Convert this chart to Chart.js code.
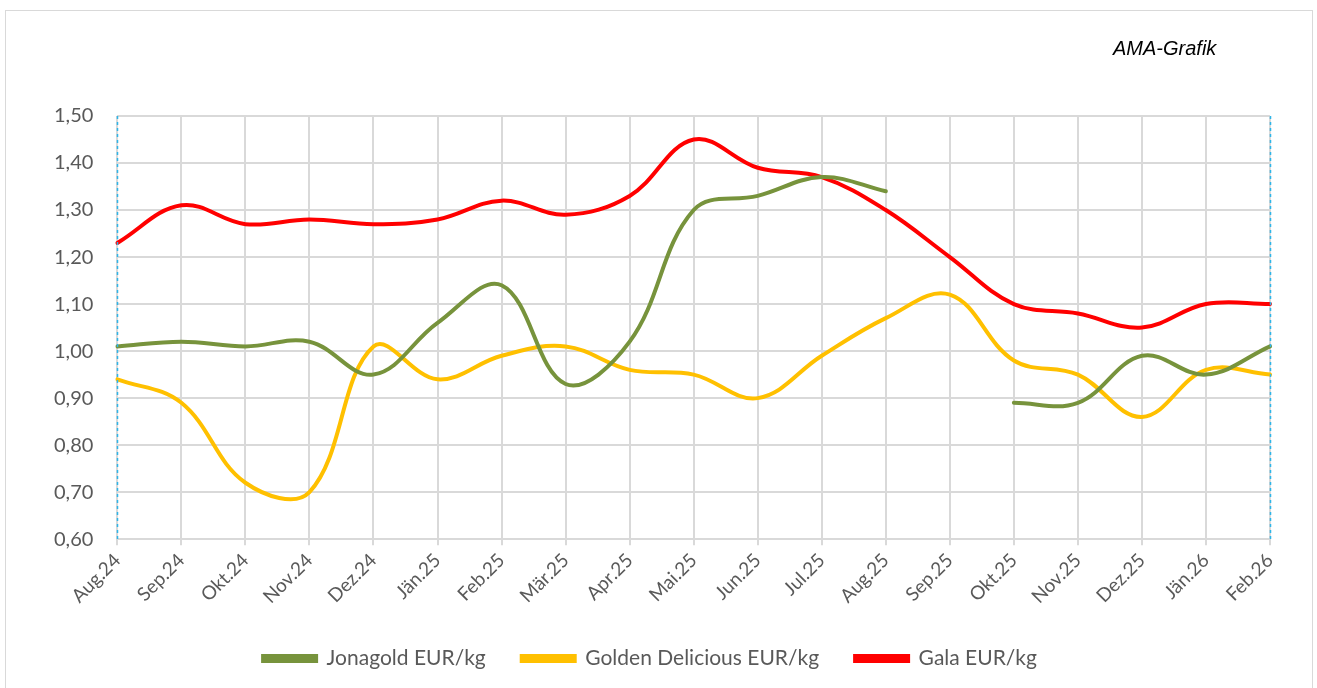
<!DOCTYPE html>
<html>
<head>
<meta charset="utf-8">
<script src="https://cdn.jsdelivr.net/npm/chart.js@4.4.1/dist/chart.umd.min.js"></script>
<style>
  body { margin: 0; background: #fff; }
  #frame { position: absolute; left: 5px; top: 10px; width: 1308px; height: 690px; border: 1px solid #d9d9d9; box-sizing: border-box; }
  #wrap { position: absolute; left: 0; top: 0; width: 1317px; height: 688px; }
  #note { position: absolute; left: 1113px; top: 37px; font: italic 20px "Liberation Sans", Arial, sans-serif; color: #000; }
</style>
</head>
<body>
<div id="frame"></div>
<div id="wrap"><canvas id="chart"></canvas></div>
<div id="note">AMA-Grafik</div>
<script>
// months on the x axis
var months = ['Aug.24', 'Sep.24', 'Okt.24', 'Nov.24', 'Dez.24', 'Jän.25', 'Feb.25', 'Mär.25', 'Apr.25',
  'Mai.25', 'Jun.25', 'Jul.25', 'Aug.25', 'Sep.25', 'Okt.25', 'Nov.25', 'Dez.25', 'Jän.26', 'Feb.26'];

// prices EUR/kg
var jonagold = [1.01, 1.02, 1.01, 1.02, 0.95, 1.06, 1.14, 0.93, 1.02, 1.30, 1.33, 1.37, 1.34, null, 0.89, 0.89, 0.99, 0.95, 1.01];
var golden = [0.94, 0.89, 0.72, 0.70, 1.01, 0.94, 0.99, 1.01, 0.96, 0.95, 0.90, 0.99, 1.07, 1.12, 0.98, 0.95, 0.86, 0.96, 0.95];
var gala = [1.23, 1.31, 1.27, 1.28, 1.27, 1.28, 1.32, 1.29, 1.33, 1.45, 1.39, 1.37, 1.30, 1.20, 1.10, 1.08, 1.05, 1.10, 1.10];

var yTicks = { min: 0.6, max: 1.5, step: 0.1 };

var font = "Lato, 'Open Sans', sans-serif";
var grey = '#595959';

// dashed blue lines on the first and last month
var edgeLines = {
  id: 'edgeLines',
  afterDatasetsDraw: function(chart) {
    var ctx = chart.ctx;
    var x = chart.scales.x, area = chart.chartArea;
    ctx.save();
    ctx.strokeStyle = '#2fb5e8';
    ctx.lineWidth = 1.5;
    ctx.setLineDash([3, 3]);
    [0, months.length - 1].forEach(function(i) {
      var px = Math.round(x.getPixelForValue(i)) + 0.5;
      ctx.beginPath();
      ctx.moveTo(px, area.top);
      ctx.lineTo(px, area.bottom);
      ctx.stroke();
    });
    ctx.restore();
  }
};

function series(label, data, color) {
  return {
    label: label,
    data: data,
    borderColor: color,
    backgroundColor: color,
    borderWidth: 4,
    pointRadius: 0,
    tension: 0.38,
    spanGaps: false,
    borderCapStyle: 'round'
  };
}

new Chart(document.getElementById('chart'), {
  type: 'line',
  data: {
    labels: months,
    datasets: [
      series('Jonagold EUR/kg', jonagold, '#77933c'),
      series('Golden Delicious EUR/kg', golden, '#ffc000'),
      series('Gala EUR/kg', gala, '#ff0000')
    ]
  },
  options: {
    responsive: true,
    maintainAspectRatio: false,
    animation: false,
    layout: { padding: { left: 30, right: 47, top: 116, bottom: 9 } },
    plugins: {
      tooltip: { enabled: false },
      legend: {
        position: 'bottom',
        labels: {
          boxWidth: 53,
          boxHeight: 5,
          padding: 36,
          color: grey,
          font: { family: font, size: 21 }
        }
      }
    },
    scales: {
      x: {
        grid: { color: '#d9d9d9', lineWidth: 2, tickLength: 6, drawTicks: true },
        border: { display: false },
        ticks: {
          color: grey,
          font: { family: font, size: 19 },
          minRotation: 45,
          maxRotation: 45,
          autoSkip: false,
          padding: 4
        }
      },
      y: {
        min: yTicks.min,
        max: yTicks.max,
        grid: { color: '#d9d9d9', lineWidth: 2, drawTicks: false },
        border: { display: false },
        ticks: {
          stepSize: yTicks.step,
          color: grey,
          padding: 24,
          font: { family: font, size: 20 },
          callback: function(v) { return v.toFixed(2).replace('.', ','); }
        }
      }
    }
  },
  plugins: [edgeLines]
});
</script>
</body>
</html>
